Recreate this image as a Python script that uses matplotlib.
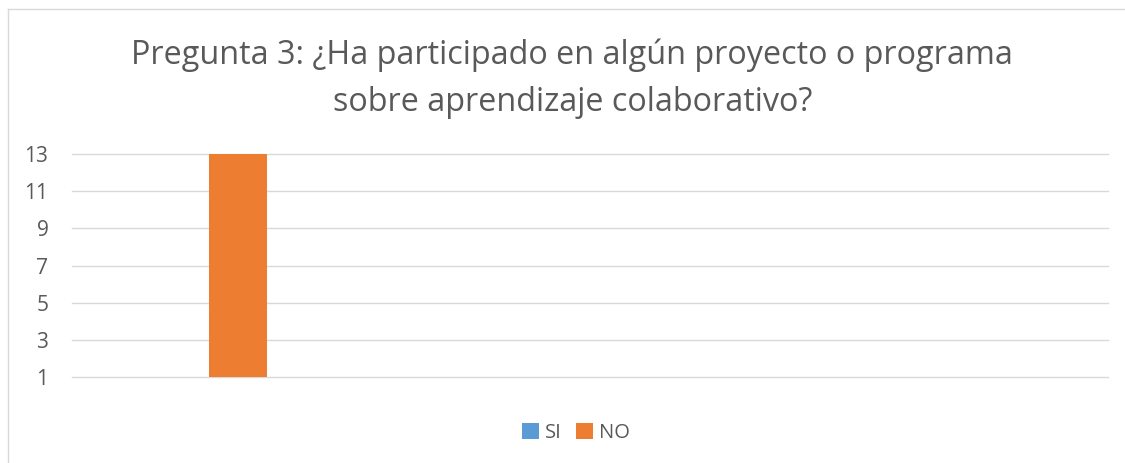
import matplotlib
matplotlib.use("Agg")
import matplotlib.pyplot as plt
from matplotlib.patches import Patch
from matplotlib.lines import Line2D
import numpy as np

plt.rcParams['font.family'] = ['Open Sans', 'DejaVu Sans']

title_line1 = "Pregunta 3: ¿Ha participado en algún proyecto o programa"
title_line2 = "sobre aprendizaje colaborativo?"
categories = ["", "", "", ""]
series_names = ["SI", "NO"]
si_values = [0, 0, 0, 0]
no_values = [13, 0, 0, 0]
yticks = [1, 3, 5, 7, 9, 11, 13]

colors = {"SI": "#5B9BD5", "NO": "#ED7D31"}
text_color = "#595959"
grid_color = "#D9D9D9"

W, H = 1125, 463
fig = plt.figure(figsize=(W / 100, H / 100), dpi=100)
fig.patch.set_facecolor("white")

left, right = 72 / W, 1108 / W
bottom, top = 1 - 377 / H, 1 - 154 / H
ax = fig.add_axes([left, bottom, right - left, top - bottom])

x = np.arange(len(categories))
b = 1 / 4.46
off = 0.635 * b
ax.bar(x - off, si_values, width=b, color=colors["SI"], zorder=3)
ax.bar(x + off, no_values, width=b, color=colors["NO"], zorder=3)

ax.set_xlim(-0.5, len(categories) - 0.5)
ax.set_ylim(yticks[0], yticks[-1])
ax.set_yticks(yticks)
ax.set_xticks([])
ax.tick_params(axis='y', length=0, pad=17, labelsize=15, labelcolor=text_color)
for s in ax.spines.values():
    s.set_visible(False)
for yv in yticks:
    ax.axhline(yv, color=grid_color, lw=1.0, zorder=1, clip_on=False)

# Title
fig.text(572 / W, 1 - 64 / H, title_line1, ha='center', va='baseline',
         fontsize=23.3, color=text_color)
fig.text(573 / W, 1 - 111 / H, title_line2, ha='center', va='baseline',
         fontsize=23.3, color=text_color)

# Legend
handles = [Patch(facecolor=colors[n], edgecolor='none', label=n) for n in series_names]
leg = fig.legend(handles=handles, loc='center', bbox_to_anchor=(576 / W, 1 - 433 / H),
                 ncol=2, frameon=False, fontsize=14.5, handlelength=0.8, handleheight=0.8,
                 handletextpad=0.3, columnspacing=0.75)
for t in leg.get_texts():
    t.set_color(text_color)

# Chart border (left and top)
fig.add_artist(Line2D([7.5 / W, 7.5 / W], [0, 1 - 9 / H], transform=fig.transFigure,
                      color=grid_color, lw=1.0))
fig.add_artist(Line2D([7.5 / W, 1], [1 - 9 / H, 1 - 9 / H], transform=fig.transFigure,
                      color=grid_color, lw=1.0))

fig.savefig("out.png", dpi=100, facecolor="white")
